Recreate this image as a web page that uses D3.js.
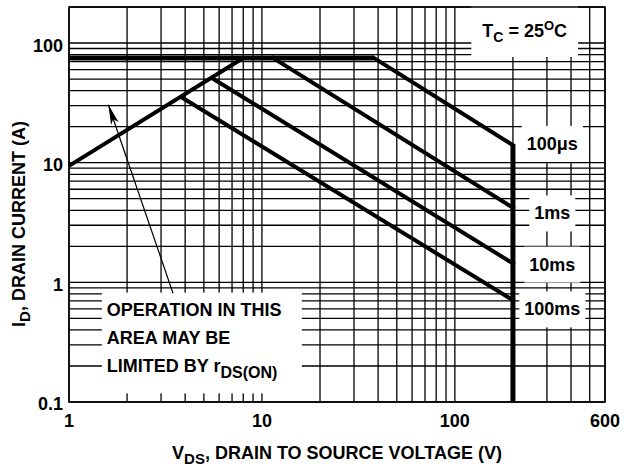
<!DOCTYPE html>
<html>
<head>
<meta charset="utf-8">
<style>
    body { margin: 0; background: #fff; }
    svg { display: block; font-family: 'Liberation Sans', Arial, sans-serif; font-weight: bold; }
</style>
</head>
<body>
<svg width="632" height="467"></svg>
<script src="https://d3js.org/d3.v7.min.js"></script>
<script>
    // axis ranges (V, A)
    let xDomain = [1, 600]
    let yDomain = [0.1, 200]
    let xTickValues = [1, 10, 100, 600]
    let yTickValues = [0.1, 1, 10, 100]
    let yTickLabels = ["0.1", "1", "10", "100"]

    // rDS(on) limit and package current limit
    let rdsLimit = [[1, 9.4], [8, 75]]
    let currentLimit = [[1, 75], [38, 75]]
    // breakdown voltage
    let bvdss = [[200, 14], [200, 0.1]]

    // pulse lines: start point on the limit, end at BVDSS
    let pulseNames = ["100\u03bcs", "1ms", "10ms", "100ms"]
    let pulseStart = [[38, 75], [11.4, 75], [5.5, 51], [3.85, 35]]
    let pulseEnd = [[200, 14], [200, 4.2], [200, 1.44], [200, 0.71]]
    let pulseLabelAt = [14.5, 3.8, 1.42, 0.6]
    let labelVolt = 320

    // annotation (tail, tip) and its box
    let arrowTail = [3.46, 0.81]
    let arrowTip = [1.6, 30.5]
    let noteBox = [[1.48, 0.82], [16.1, 0.118]]

    let svg = d3.select("svg")
    let x = d3.scaleLog().domain(xDomain).range([69, 605])
    let y = d3.scaleLog().domain(yDomain).range([402, 7])

    // grid lines, 1..9 per decade
    let xGrid = []
    for (let d of [1, 10, 100]) for (let k = 1; k <= 9; k++) if (d * k <= 600) xGrid.push(d * k)
    let yGrid = []
    for (let d of [0.1, 1, 10, 100]) for (let k = 1; k <= 9; k++) if (d * k <= 200) yGrid.push(d * k)

    let grid = svg.append("g")
    grid.selectAll(".vx").data(xGrid).join("line")
        .attr("x1", d => x(d)).attr("x2", d => x(d))
        .attr("y1", y(yDomain[0])).attr("y2", y(yDomain[1]))
        .style("stroke", "#000").style("stroke-width", 1.3)
    grid.selectAll(".hy").data(yGrid).join("line")
        .attr("y1", d => y(d)).attr("y2", d => y(d))
        .attr("x1", x(xDomain[0])).attr("x2", x(xDomain[1]))
        .style("stroke", "#000").style("stroke-width", 1.3)

    let line = d3.line().x(d => x(d[0])).y(d => y(d[1]))

    // white boxes behind labels (sized after text is drawn)
    let boxes = svg.append("g")
    let curves = svg.append("g")
    let labels = svg.append("g").style("font-size", "18px")

    // note box
    boxes.append("rect")
        .attr("x", x(noteBox[0][0])).attr("y", y(noteBox[0][1]))
        .attr("width", x(noteBox[1][0]) - x(noteBox[0][0]))
        .attr("height", y(noteBox[1][1]) - y(noteBox[0][1]))
        .style("fill", "#fff")

    curves.append("path").attr("d", line(currentLimit))
        .style("fill", "none").style("stroke", "#000").style("stroke-width", 5)
    curves.append("path").attr("d", line(rdsLimit))
        .style("fill", "none").style("stroke", "#000").style("stroke-width", 4)
    curves.append("path").attr("d", line(bvdss))
        .style("fill", "none").style("stroke", "#000").style("stroke-width", 5)
    curves.selectAll(".pulse").data(pulseStart).join("path")
        .attr("d", (d, i) => line([d, pulseEnd[i]]))
        .style("fill", "none").style("stroke", "#000").style("stroke-width", 4)
        .style("stroke-linecap", "square")

    // arrow
    svg.append("defs").append("marker")
        .attr("id", "head").attr("viewBox", "0 0 20 10")
        .attr("refX", 20).attr("refY", 5)
        .attr("markerWidth", 20).attr("markerHeight", 10)
        .attr("markerUnits", "userSpaceOnUse")
        .attr("orient", "auto")
        .append("path").attr("d", "M0,1 L20,5 L0,9 L5,5 Z").style("fill", "#000")
    svg.append("line")
        .attr("x1", x(arrowTail[0])).attr("y1", y(arrowTail[1]))
        .attr("x2", x(arrowTip[0])).attr("y2", y(arrowTip[1]))
        .style("stroke", "#000").style("stroke-width", 1.2)
        .attr("marker-end", "url(#head)")

    function padBox(t, px, py) {
        let b = t.node().getBBox()
        boxes.append("rect")
            .attr("x", b.x - px).attr("y", b.y - py)
            .attr("width", b.width + 2 * px).attr("height", b.height + 2 * py)
            .style("fill", "#fff")
    }

    // pulse labels
    pulseNames.forEach((name, i) => {
        let t = labels.append("text")
            .attr("x", x(labelVolt)).attr("y", y(pulseLabelAt[i]))
            .attr("dy", "0.36em")
            .attr("text-anchor", "middle")
            .text(name)
        padBox(t, 5, 8)
    })

    // TC label
    let tc = labels.append("text")
        .attr("x", x(230)).attr("y", 37)
        .attr("text-anchor", "middle")
    tc.append("tspan").text("T")
    tc.append("tspan").attr("dy", 5).style("font-size", "14px").text("C")
    tc.append("tspan").attr("dy", -5).text(" = 25")
    tc.append("tspan").attr("dy", -7).style("font-size", "13px").text("O")
    tc.append("tspan").attr("dy", 7).text("C")
    padBox(tc, 11, 12)

    // note text
    let noteLines = ["OPERATION IN THIS", "AREA MAY BE", "LIMITED BY "]
    noteLines.forEach((s, i) => {
        let t = labels.append("text")
            .attr("x", x(noteBox[0][0]) + 5)
            .attr("y", y(noteBox[0][1]) + 23 + i * 28)
        t.append("tspan").text(s)
        if (i == 2) {
            t.append("tspan").text("r")
            t.append("tspan").attr("dy", 6).style("font-size", "16px").text("DS(ON)")
        }
    })

    // tick labels
    labels.selectAll(".xt").data(xTickValues).join("text")
        .attr("x", d => x(d)).attr("y", 427)
        .attr("text-anchor", "middle")
        .text(d => d)
    labels.selectAll(".yt").data(yTickValues).join("text")
        .attr("x", 63).attr("y", d => y(d) + 2)
        .attr("dy", "0.36em")
        .attr("text-anchor", "end")
        .text((d, i) => yTickLabels[i])

    // axis titles
    let xt = labels.append("text")
        .attr("x", 337).attr("y", 459)
        .attr("text-anchor", "middle")
    xt.append("tspan").text("V")
    xt.append("tspan").attr("dy", 5).style("font-size", "15px").text("DS")
    xt.append("tspan").attr("dy", -5).text(", DRAIN TO SOURCE VOLTAGE (V)")

    let yt = labels.append("text")
        .attr("transform", "translate(25,224) rotate(-90)")
        .attr("text-anchor", "middle")
    yt.append("tspan").text("I")
    yt.append("tspan").attr("dy", 5).style("font-size", "15px").text("D")
    yt.append("tspan").attr("dy", -5).text(", DRAIN CURRENT (A)")

    // frame
    svg.append("rect")
        .attr("x", x(xDomain[0])).attr("y", y(yDomain[1]))
        .attr("width", x(xDomain[1]) - x(xDomain[0]))
        .attr("height", y(yDomain[0]) - y(yDomain[1]))
        .style("fill", "none").style("stroke", "#000").style("stroke-width", 1.5)
</script>
</body>
</html>
